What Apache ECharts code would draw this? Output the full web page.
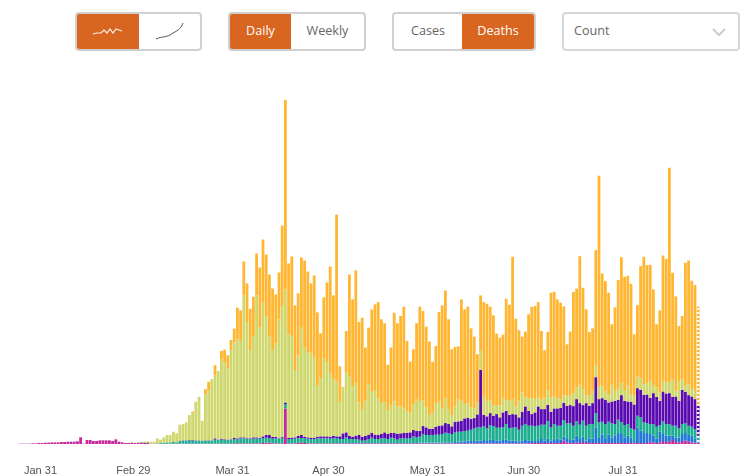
<!DOCTYPE html>
<html>
<head>
<meta charset="utf-8">
<title>Daily deaths</title>
<script src="https://cdn.jsdelivr.net/npm/echarts@6/dist/echarts.min.js"></script>
<style>
    html, body { margin: 0; padding: 0; background: #fff; }
    body { width: 749px; height: 476px; overflow: hidden; position: relative; font-family: "Open Sans", Arial, sans-serif; font-size: 12.6px; color: #666; }
    #main { position: absolute; left: 0; top: 0; width: 749px; height: 476px; }
    .group { position: absolute; top: 12px; height: 35px; display: flex; border: 2px solid #d0d0d0; border-radius: 4px; overflow: hidden; background: #fff; }
    .group div { display: flex; align-items: center; justify-content: center; height: 100%; box-sizing: border-box; padding-bottom: 2px; }
    .on { background: #d86520; color: #fff; }
    #select { position: absolute; left: 562px; top: 12px; width: 174px; height: 35px; border: 2px solid #d8d8d8; border-radius: 4px; background: #fff; line-height: 34px; text-indent: 10px; }
    #select svg { position: absolute; right: 12px; top: 14px; }
</style>
</head>
<body>
<div id="main"></div>

<div class="group" style="left:75px;width:123px">
    <div class="on" style="width:62px">
        <svg width="32" height="12"><polyline points="1,9 5,8 9,8 12,5 15,8 18,4 21,8 24,4 27,5 30,6" fill="none" stroke="#fdeee4" stroke-width="1.2"/></svg>
    </div>
    <div style="width:61px">
        <svg width="32" height="20"><path d="M2 18 C 8 15, 13 17, 19 12 C 25 9, 27 7, 29 2" fill="none" stroke="#555" stroke-width="1"/></svg>
    </div>
</div>
<div class="group" style="left:228px;width:134px">
    <div class="on" style="width:61px">Daily</div>
    <div style="width:73px">Weekly</div>
</div>
<div class="group" style="left:392px;width:140px">
    <div style="width:68px">Cases</div>
    <div class="on" style="width:72px">Deaths</div>
</div>
<div id="select">Count
    <svg width="14" height="9"><polyline points="1,1 7,7 13,1" fill="none" stroke="#ccc" stroke-width="2"/></svg>
</div>

<script>
// 一天一根柱子，从 1月22日 到 8月23日；纵轴隐藏，数值是从图上读出来的估计值
const tickDays = ['Jan 31', 'Feb 29', 'Mar 31', 'Apr 30', 'May 31', 'Jun 30', 'Jul 31']
const monthNames = ['Jan', 'Feb', 'Mar', 'Apr', 'May', 'Jun', 'Jul', 'Aug']
const monthLengths = [31, 29, 31, 30, 31, 30, 31, 31]

const pink = [
    0,0,0,1,1,1,1,2,2,3, 3,4,4,5,5,5,6,6,7,7, 7,8,20,1,12,12,9,9,11,11, 11,11,9,14,7,5,3,3,4,3,
    3,4,4,4,1,1,1,1,1,1, 1,1,1,1,1,1,1,1,1,1, 1,1,1,1,1,1,1,1,1,1,
    2,2,2,2,2,2,2,2,2,3, 4,4,2,2,2,2,107,2,2,2, 3,5,3,2,2,2,2,2,2,2,
    2,2,2,2,2,2,2,2,2,2, 2,2,2,2,2,2,2,2,2,2, 2,2,2,2,2,2,2,2,2,2, 2,2,2,2,2,2,2,2,2,2,
    2,2,2,2,2,2,2,2,2,2, 2,2,2,2,2,2,2,2,2,2, 2,2,2,3,3,3,3,3,3,3,
    3,3,3,10,5,3,3,5,3,6, 3,3,3,3,3,3,3,3,3,3, 3,3,3,3,3,4,3,3,3,3,
    7,5,3,5,9,6,7,12,6,5, 9,10,8,5,4,3
]
const blue = [
    0,0,0,0,0,0,0,0,0,0, 0,0,0,0,0,0,0,0,0,0, 0,0,0,0,0,0,0,0,0,0, 0,0,0,0,0,0,0,0,0,0,
    0,0,0,0,0,0,0,0,0,0, 0,0,0,0,0,0,0,0,0,0, 0,0,0,0,0,0,0,0,0,0,
    0,0,0,0,0,0,0,0,0,0, 0,0,0,0,0,0,0,0,0,0, 0,0,0,0,0,0,0,0,0,0,
    0,0,0,1,1,1,1,1,1,1, 1,1,1,1,1,1,1,1,1,1, 1,1,1,1,1,1,1,1,2,2, 2,2,2,2,2,2,3,3,3,4,
    5,5,6,8,7,7,8,8,10,7, 12,10,8,8,10,11,9,8,8,6, 9,10,9,6,6,6,12,7,14,7,
    9,14,10,12,10,9,10,20,12,16, 7,14,14,47,15,25,12,25,16,22, 30,27,17,22,16,5,47,37,30,30,
    23,20,14,32,21,19,18,13,14,14, 21,23,19,20,13,2
]
const teal = [
    0,0,0,0,0,0,0,0,0,0, 0,0,0,0,0,0,0,0,0,0, 0,0,0,0,0,0,0,0,0,0, 0,0,0,0,0,0,0,0,0,0,
    1,1,1,1,0,0,1,2,3,4, 4,5,4,8,9,9,10,10,9,9, 8,9,9,9,12,11,12,11,10,11,
    13,12,15,15,15,12,14,15,14,15, 15,14,14,15,13,17,13,13,13,14, 15,13,14,14,13,12,15,15,15,15,
    14,15,16,12,12,17,12,12,12,10, 7,8,12,16,12,12,14,14,12,16, 14,10,14,14,14,14,20,17,18,26, 23,23,23,24,24,26,29,27,25,29,
    30,30,31,30,34,38,40,40,41,38, 43,42,39,39,39,47,37,39,40,35, 44,48,44,46,44,46,43,48,52,40,
    48,38,42,50,47,51,42,43,43,48, 45,43,43,42,47,39,45,39,43,35, 40,35,37,35,29,34,35,40,32,30,
    30,35,35,20,38,35,35,30,35,28, 30,29,28,27,28,20
]
const purple = [
    0,0,0,0,0,0,0,0,0,0, 0,0,0,0,0,0,0,0,0,0, 0,0,0,0,0,0,0,0,0,0, 0,0,0,0,0,0,0,0,0,0,
    0,0,0,0,0,0,0,0,0,0, 0,0,0,1,1,1,1,1,1,1, 1,1,1,1,4,1,2,2,2,2,
    3,3,3,3,2,3,4,3,3,5, 8,9,5,4,2,3,5,3,4,4, 6,9,4,4,4,5,5,6,6,6,
    6,8,5,8,17,15,10,7,10,15, 12,13,13,15,13,12,13,18,15,15, 16,18,15,17,17,18,19,19,17,24, 23,19,19,24,27,26,29,28,23,32,
    31,33,38,39,32,31,39,173,35,36, 36,31,41,31,44,40,40,41,39,37, 42,53,45,35,42,58,47,47,49,47,
    47,52,54,52,53,54,59,67,65,47, 68,55,63,109,70,71,73,58,66,70, 60,82,73,68,79,76,83,83,83,86,
    79,93,90,73,90,92,93,87,88,83, 103,95,92,91,90,90
]
const lime = [
    0,0,0,0,0,0,0,0,0,0, 0,0,0,0,0,0,0,0,0,0, 0,0,0,0,0,0,0,0,0,0, 0,0,0,0,0,0,0,0,1,1,
    1,2,2,3,6,6,15,10,16,22, 22,31,27,48,49,54,75,80,114,131, 60,139,151,184,190,207,240,231,214,269,
    287,298,290,427,348,266,305,427,331,402, 356,296,262,281,358,393,340,312,304,200, 243,325,269,255,256,241,153,174,234,222,
    190,170,165,104,138,180,178,151,158,97, 81,106,152,123,134,111,93,90,70,81, 95,82,81,73,65,60,78,96,88,78, 60,41,49,71,72,51,75,45,32,46,
    67,60,43,44,35,29,36,57,54,47, 37,32,25,37,44,32,42,45,24,50, 58,27,38,47,40,27,28,34,44,44,
    36,31,26,23,30,30,38,35,55,48, 24,30,37,36,37,37,25,25,50,30, 34,36,30,47,23,26,35,34,32,34,
    51,22,28,25,32,33,34,53,17,60, 32,20,32,22,25,2
]
const orange = [
    0,0,0,0,0,0,0,0,0,0, 0,0,0,0,0,0,0,0,0,0, 0,0,0,0,0,0,0,0,0,0, 0,0,0,0,0,0,0,0,0,0,
    0,0,0,0,0,0,0,0,0,0, 0,0,0,0,0,0,0,5,2,0, 0,15,25,0,30,0,25,39,40,30,
    42,95,92,102,116,124,118,126,181,190, 187,187,185,148,141,242,570,213,241,197, 186,209,262,244,208,247,221,136,184,241,
    322,252,502,107,2,125,307,262,339,242, 277,160,170,248,258,289,252,238,138,175, 267,250,272,306,211,153,165,228,286,268, 243,221,152,172,270,310,324,270,200,179,
    159,305,285,290,238,216,145,167,285,292, 283,270,217,203,190,305,289,428,264,212, 168,198,252,276,280,287,207,143,175,314,
    315,297,290,267,155,191,305,297,387,305, 258,192,188,346,635,338,332,305,182,251, 326,379,343,331,332,185,215,338,383,355,
    349,290,190,247,377,372,644,320,284,165, 190,368,373,326,318,296
]

// 日期标签
let categories = []
monthNames.forEach((m, idx) => {
    const first = idx === 0 ? 22 : 1
    for (let d = first; d <= monthLengths[idx]; d++) categories.push(m + ' ' + d)
})
categories = categories.slice(0, pink.length)

// 最后一天数据不完整，用虚线花纹
function withLastHatched(values) {
    return values.map((v, i) => {
        if (i !== values.length - 1) return v
        return {
            value: v,
            itemStyle: {
                decal: { symbol: 'rect', symbolSize: 1, color: 'rgba(255,255,255,0.9)', dashArrayX: [1, 0], dashArrayY: [2, 2], rotation: 0 }
            }
        }
    })
}

function barSeries(name, values, color) {
    return {
        name: name,
        type: 'bar',
        stack: 'total',
        barWidth: 2.8,
        itemStyle: { color: color },
        data: withLastHatched(values)
    }
}

let myChart = echarts.init(document.getElementById('main'), null, { renderer: 'canvas' })
myChart.setOption({
    animation: false,
    grid: { left: 8.6, top: 70, width: 691.2, height: 375 },
    xAxis: {
        type: 'category',
        data: categories,
        axisLine: { show: false },
        axisTick: { show: false },
        axisLabel: {
            interval: (i, label) => tickDays.includes(label),
            margin: 21,
            padding: [0, 0, 0, 3],
            fontSize: 11,
            fontFamily: 'Liberation Sans, Arial, sans-serif',
            color: '#555'
        }
    },
    yAxis: { type: 'value', show: false, min: 0, max: 1125, splitLine: { show: false } },
    series: [
        barSeries('Western Pacific', pink, '#c42b9c'),
        barSeries('Africa', blue, '#2379d8'),
        barSeries('South-East Asia', teal, '#1fae90'),
        barSeries('Eastern Mediterranean', purple, '#5a0cb0'),
        barSeries('Europe', lime, '#ced86e'),
        barSeries('Americas', orange, '#ffb733')
    ]
})
</script>
</body>
</html>
